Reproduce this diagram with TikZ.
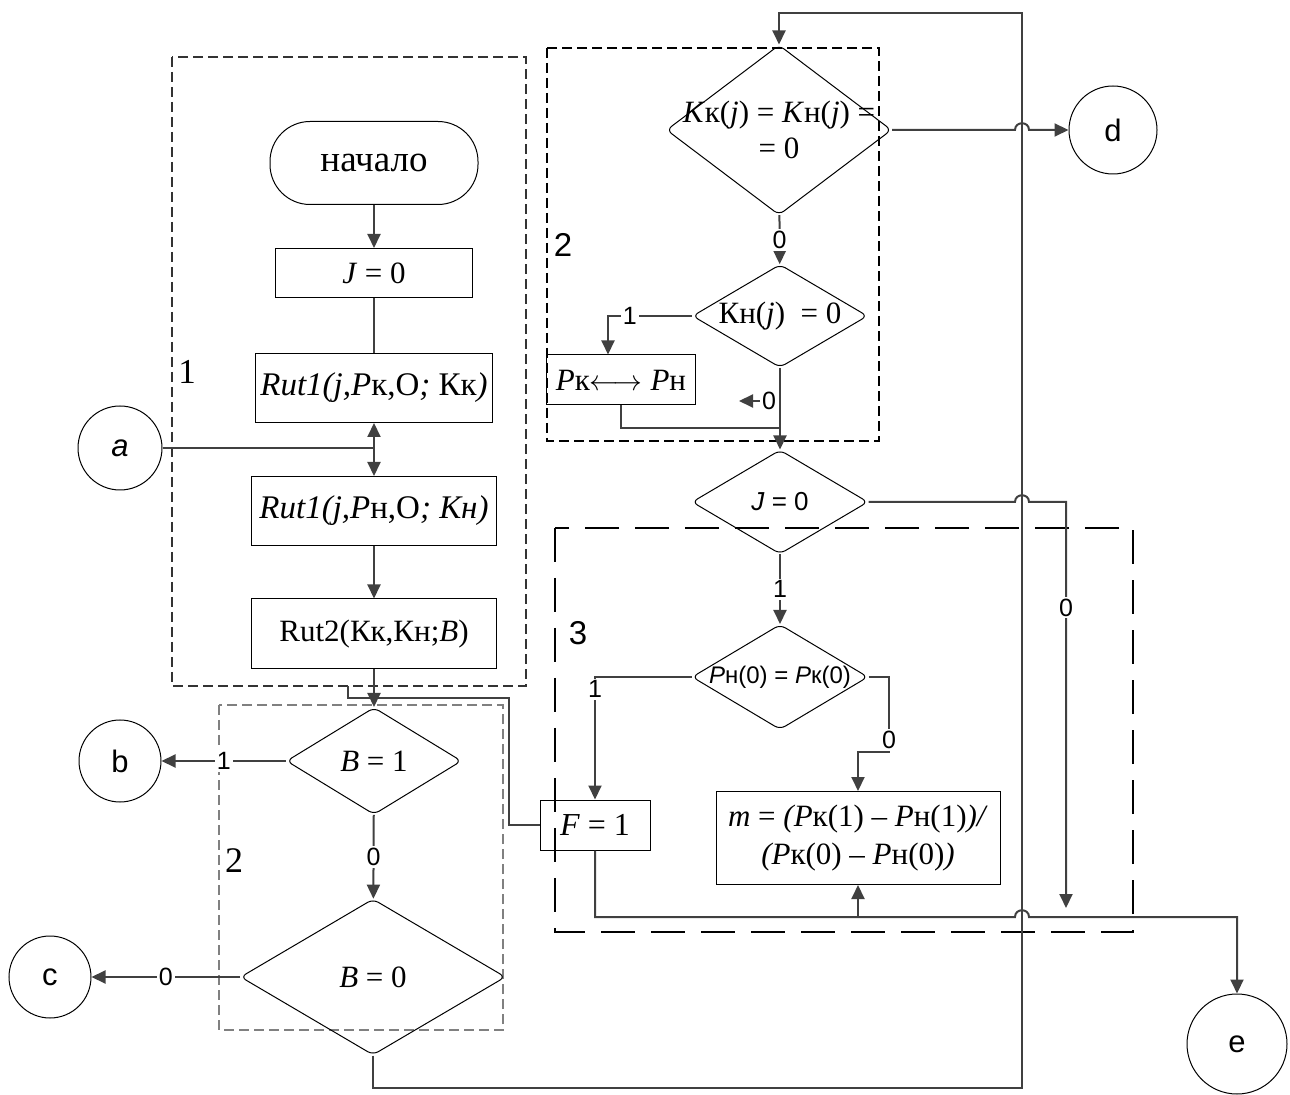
\documentclass[tikz,border=0pt]{standalone}
\usepackage{fontspec}
\setmainfont{Liberation Serif}
\setsansfont{Liberation Sans}
\usetikzlibrary{shapes.geometric,arrows.meta}

\begin{document}
\begin{tikzpicture}[x=.5pt,y=-.5pt,
  ln/.style={draw=black!75,line width=1pt},
  arr/.style={ln,-{Triangle[length=7pt,width=6.5pt]}},
  blk/.style={draw,line width=.5pt,inner sep=1pt,align=center,font=\fontsize{15.5}{18}\selectfont},
  dec/.style={draw,diamond,line width=.5pt,inner sep=0pt,rounded corners=3pt},
  dtxt/.style={align=center,font=\fontsize{15.5}{18}\selectfont},
  stxt/.style={font=\sffamily\fontsize{12}{14}\selectfont},
  conn/.style={draw,circle,line width=.5pt,inner sep=0pt,font=\sffamily\fontsize{15.5}{18}\selectfont},
  lbl/.style={fill=white,inner sep=1pt,font=\sffamily\fontsize{12.5}{14}\selectfont},
  frm/.style={line width=.6pt,dash pattern=on 5pt off 2.5pt}]
  \useasboundingbox (0,0) rectangle (1290,1095);
  % 虚线框
  \draw[frm,draw=black!80] (172,57) rectangle (526,686);
  \draw[frm,draw=black] (547,48) rectangle (879,441);
  \draw[frm,draw=black!50] (219,705) rectangle (503,1030);
  \draw[line width=1.1pt,dash pattern=on 17pt off 8pt] (555,528) rectangle (1133,932);
  \node[font=\fontsize{17.5}{20}\selectfont] (n1) at (187,372) {1};
  \node[font=\fontsize{18}{20}\selectfont] (n2) at (234,861) {2};
  \node[font=\sffamily\fontsize{16.5}{20}\selectfont] (n2b) at (563,245) {2};
  \node[font=\sffamily\fontsize{16.5}{20}\selectfont] (n3) at (578,633) {3};
  % 左列
  \node[blk,rounded corners=20pt,minimum width=104pt,minimum height=41.5pt,font=\fontsize{18.5}{20}\selectfont] (start) at (374,163) {начало};
  \node[blk,minimum width=98.5pt,minimum height=24.5pt] (jset) at (374,273) {\textit{J} = 0};
  \node[blk,minimum width=118.5pt,minimum height=34.5pt,font=\fontsize{16.5}{18}\selectfont] (rutk) at (374,388) {\textit{Rut1(j,P}к,O\textit{;} Кк\textit{)}};
  \node[blk,minimum width=122.5pt,minimum height=34.5pt,font=\fontsize{16.5}{18}\selectfont] (rutn) at (374,511) {\textit{Rut1(j,P}н,O\textit{; Кн)}};
  \node[blk,minimum width=122.5pt,minimum height=35pt] (rutb) at (374,634) {Rut2(Кк,Кн;\textit{B})};
  \node[dec,minimum width=87.5pt,minimum height=53.5pt,label={[dtxt]center:\textit{B} = 1}] (bone) at (374,761) {};
  \node[dec,minimum width=132.5pt,minimum height=78pt,label={[dtxt]center:\textit{B} = 0}] (bzero) at (373,977) {};
  \node[conn,minimum size=42pt] (a) at (120,448) {\textit{a}};
  \node[conn,minimum size=41pt] (b) at (120,761) {b};
  \node[conn,minimum size=41pt] (c) at (50,977) {c};
  % 右列
  \node[dec,minimum width=112.5pt,minimum height=85pt,label={[dtxt]center:{\textit{K}к(\textit{j}) = \textit{K}н(\textit{j}) =\\= 0}}] (kk) at (779,130) {};
  \node[dec,minimum width=87.5pt,minimum height=51.5pt,label={[dtxt]center:Кн(\textit{j})\ \ = 0}] (kn) at (780,316) {};
  \node[blk,minimum width=74.5pt,minimum height=25pt] (swap) at (621,380) {\textit{P}к$\longleftrightarrow$\ \textit{P}н};
  \node[dec,minimum width=88pt,minimum height=52pt,label={[stxt,font=\sffamily\fontsize{13}{15}\selectfont]center:\textit{J} = 0}] (jz) at (780,502) {};
  \node[dec,minimum width=88pt,minimum height=52.5pt,label={[stxt]center:\textit{P}н(0) = \textit{P}к(0)}] (pp) at (780,677) {};
  \node[blk,minimum width=55pt,minimum height=25pt,font=\fontsize{16}{18}\selectfont] (fone) at (595,825) {\textit{F} = 1};
  \node[blk,minimum width=142pt,minimum height=46.5pt,font=\fontsize{15.5}{19}\selectfont] (mbox) at (858,838) {\textit{m} = \textit{(P}к(1) – \textit{P}н(1)\textit{)/}\\\textit{(P}к(0) – \textit{P}н(0)\textit{)}};
  \node[conn,minimum size=44pt] (d) at (1113,130) {d};
  \node[conn,minimum size=50pt] (e) at (1237,1044) {e};
  \coordinate (ajoin) at (374,448);
  \coordinate (loopR) at (1022,1088);
  \coordinate (loopT) at (1022,13);
  \coordinate (mrg) at (780,428);
  \coordinate (knoe) at (739,401);
  \coordinate (jzR) at (1066,908);
  \coordinate (botR) at (1237,917);
  \coordinate (mjoin) at (858,917);
  % 连线
  \draw[arr] (start) -- (jset);
  \draw[ln] (jset) -- (rutk);
  \draw[ln] (a) -- (ajoin);
  \draw[arr] (ajoin) -- (rutk);
  \draw[arr] (ajoin) -- (rutn);
  \draw[arr] (rutn) -- (rutb);
  \draw[ln] (fone.west) -- (509,825) -- (509,698) -- (348,698) -- (348,686);
  \draw[arr] (rutb) -- (bone);
  \draw[arr] (bone) -- node[lbl]{1} (b);
  \draw[arr] (bone) -- node[lbl]{0} (bzero);
  \draw[arr] (bzero) -- node[lbl]{0} (c);
  \draw[arr] (bzero.south) |- (loopR) -- (loopT) -| (kk.north);
  \draw[arr] (kk.east) -- (1015,130) .. controls (1015,121) and (1029,121) .. (1029,130) -- (d);
  \draw[arr] (kk) -- node[lbl]{0} (kn);
  \draw[arr] (kn.west) -| node[lbl,pos=.37]{1} ([xshift=-6.5pt]swap.north);
  \draw[ln] (swap.south) |- (mrg);
  \draw[arr] (kn) -- (jz);
  \node[lbl] (kno) at (769,401) {0};
  \draw[arr] (kno.west) -- (knoe);
  \draw[arr] (jz.east) -- (1015,502) .. controls (1015,493) and (1029,493) .. (1029,502) -| node[lbl,pos=.63]{0} (jzR);
  \draw[arr] (jz) -- node[lbl]{1} (pp);
  \draw[arr] (pp.west) -| node[lbl,pos=.55]{1} (fone.north);
  \draw[arr] (pp.east) -| node[lbl,pos=.92]{0} (889,752) -| (mbox.north);
  \draw[arr] (fone.south) |- (1015,917) .. controls (1015,908) and (1029,908) .. (1029,917) -- (botR) -- (e);
  \draw[arr] (mjoin) -- (mbox.south);
\end{tikzpicture}
\end{document}
